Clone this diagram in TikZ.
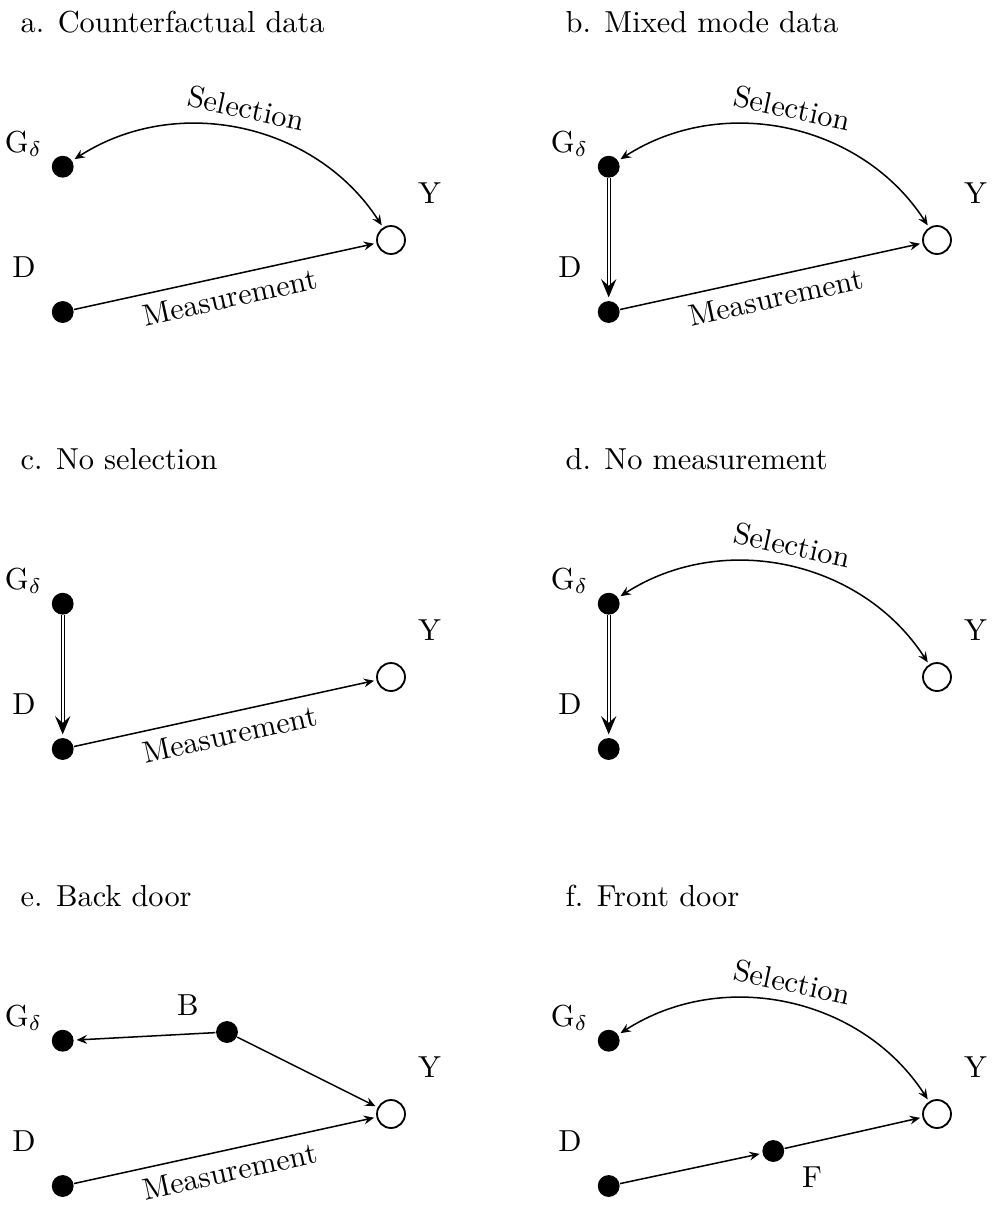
\documentclass[tikz,border=0pt]{standalone}
\usetikzlibrary{arrows.meta}
\begin{document}
\begin{tikzpicture}[x=0.329pt,y=-0.329pt,
 dot/.style={circle,fill=black,inner sep=0pt,minimum size=7.2pt},
 outc/.style={circle,draw=black,line width=0.6pt,inner sep=0pt,minimum size=9.2pt},
 lbl/.style={anchor=base,inner sep=0pt},
 ttl/.style={anchor=base west,inner sep=0pt},
 tip/.tip={Stealth[length=3.4pt,width=2.9pt,inset=1.2pt]},
 arr/.style={line width=0.5pt,-tip,shorten >=0.8pt},
 sel/.style={line width=0.5pt,tip-tip,shorten >=0.8pt,shorten <=0.8pt},
 dbl/.style={double,line width=0.4pt,-{Stealth[length=6pt,width=5pt,inset=2.2pt,line width=0.6pt]},shorten >=1pt},
]
\useasboundingbox (0,0) rectangle (991,1205);
% ---------- a ----------
\begin{scope}[shift={(0,0)}]
\node[dot] (Ga) at (62.7,166.7) {};
\node[dot] (Da) at (62.7,312) {};
\node[outc] (Ya) at (391,240) {};
\node[lbl] (gla) at (23.5,152) {G$_\delta$};
\node[lbl] (dla) at (24,277) {D};
\node[lbl] (yla) at (429.5,203) {Y};
\node[ttl] (ta) at (20,32) {a. Counterfactual data};
\draw[sel] (Ga) to[bend left=45] node[above,sloped] (sa) {Selection} (Ya);
\draw[arr] (Da) -- node[below,sloped] (ma) {Measurement} (Ya);
\end{scope}
% ---------- b ----------
\begin{scope}[shift={(546,0)}]
\node[dot] (Gb) at (62.7,166.7) {};
\node[dot] (Db) at (62.7,312) {};
\node[outc] (Yb) at (391,240) {};
\node[lbl] (glb) at (23.5,152) {G$_\delta$};
\node[lbl] (dlb) at (24,277) {D};
\node[lbl] (ylb) at (429.5,203) {Y};
\node[ttl] (tb) at (19,32) {b. Mixed mode data};
\draw[sel] (Gb) to[bend left=45] node[above,sloped] (sb) {Selection} (Yb);
\draw[arr] (Db) -- node[below,sloped] (mb) {Measurement} (Yb);
\draw[dbl] (Gb) -- (Db);
\end{scope}
% ---------- c ----------
\begin{scope}[shift={(0,437)}]
\node[dot] (Gc) at (62.7,166.7) {};
\node[dot] (Dc) at (62.7,312) {};
\node[outc] (Yc) at (391,240) {};
\node[lbl] (glc) at (23.5,152) {G$_\delta$};
\node[lbl] (dlc) at (24,277) {D};
\node[lbl] (ylc) at (429.5,203) {Y};
\node[ttl] (tc) at (20,32) {c. No selection};
\draw[arr] (Dc) -- node[below,sloped] (mc) {Measurement} (Yc);
\draw[dbl] (Gc) -- (Dc);
\end{scope}
% ---------- d ----------
\begin{scope}[shift={(546,437)}]
\node[dot] (Gd) at (62.7,166.7) {};
\node[dot] (Dd) at (62.7,312) {};
\node[outc] (Yd) at (391,240) {};
\node[lbl] (gld) at (23.5,152) {G$_\delta$};
\node[lbl] (dld) at (24,277) {D};
\node[lbl] (yld) at (429.5,203) {Y};
\node[ttl] (td) at (19,32) {d. No measurement};
\draw[sel] (Gd) to[bend left=45] node[above,sloped] (sd) {Selection} (Yd);
\draw[dbl] (Gd) -- (Dd);
\end{scope}
% ---------- e ----------
\begin{scope}[shift={(0,874)}]
\node[dot] (Ge) at (62.7,166.7) {};
\node[dot] (De) at (62.7,312) {};
\node[outc] (Ye) at (391,240) {};
\node[dot] (Be) at (227,158) {};
\node[lbl] (gle) at (23.5,152) {G$_\delta$};
\node[lbl] (dle) at (24,277) {D};
\node[lbl] (yle) at (429.5,203) {Y};
\node[lbl] (ble) at (188,141) {B};
\node[ttl] (te) at (20,32) {e. Back door};
\draw[arr] (Be) -- (Ge);
\draw[arr] (Be) -- (Ye);
\draw[arr] (De) -- node[below,sloped] (me) {Measurement} (Ye);
\end{scope}
% ---------- f ----------
\begin{scope}[shift={(546,874)}]
\node[dot] (Gf) at (62.7,166.7) {};
\node[dot] (Df) at (62.7,312) {};
\node[outc] (Yf) at (391,240) {};
\node[dot] (Ff) at (227.3,277) {};
\node[lbl] (glf) at (23.5,152) {G$_\delta$};
\node[lbl] (dlf) at (24,277) {D};
\node[lbl] (ylf) at (429.5,203) {Y};
\node[lbl] (flf) at (266,313) {F};
\node[ttl] (tf) at (19,32) {f. Front door};
\draw[sel] (Gf) to[bend left=45] node[above,sloped] (sf) {Selection} (Yf);
\draw[arr] (Df) -- (Ff);
\draw[arr] (Ff) -- (Yf);
\end{scope}
\end{tikzpicture}
\end{document}
